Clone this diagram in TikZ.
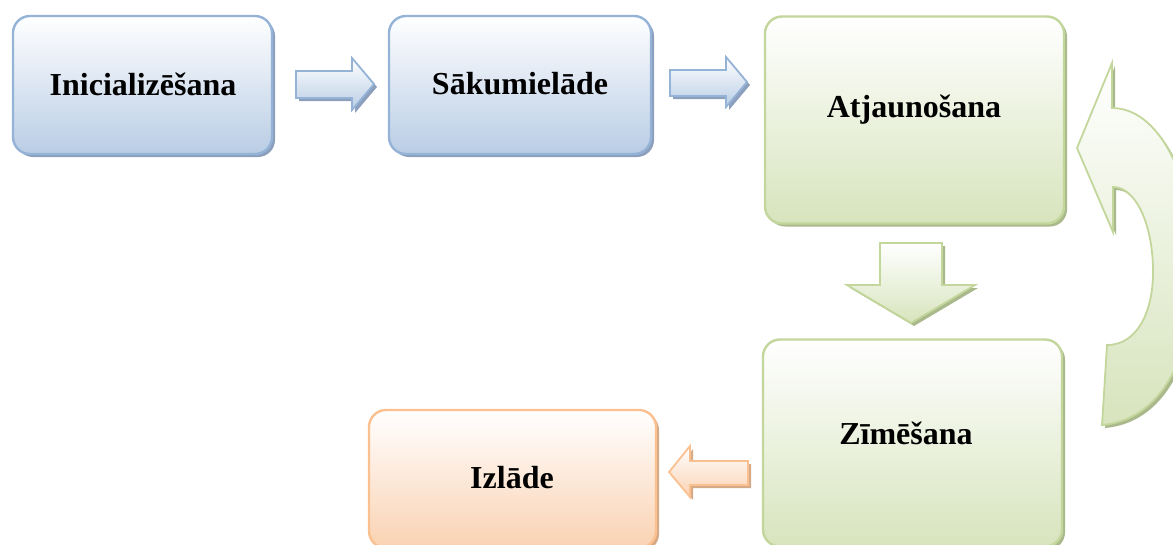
\documentclass[tikz,border=0pt]{standalone}
\usepackage{fontspec}
\setmainfont{Liberation Serif}
\usetikzlibrary{shadows}
\definecolor{bstroke}{RGB}{149,179,215}
\definecolor{bfill}{RGB}{185,205,229}
\definecolor{bshad}{RGB}{140,160,190}
\definecolor{gstroke}{RGB}{195,214,155}
\definecolor{gfill}{RGB}{215,228,189}
\definecolor{gshad}{RGB}{170,185,140}
\definecolor{ostroke}{RGB}{250,192,144}
\definecolor{ofill}{RGB}{250,210,178}
\definecolor{oshad}{RGB}{215,170,135}
\tikzset{
  boxbase/.style={line width=2.4pt, rounded corners=17pt, inner sep=0pt},
  bluebox/.style={boxbase, draw=bstroke, top color=white, bottom color=bfill,
    drop shadow={shadow xshift=3pt, shadow yshift=-3pt, fill=bshad, opacity=1}},
  greenbox/.style={boxbase, draw=gstroke, top color=white, bottom color=gfill,
    drop shadow={shadow xshift=3pt, shadow yshift=-3pt, fill=gshad, opacity=1}},
  orangebox/.style={boxbase, draw=ostroke, top color=white, bottom color=ofill,
    drop shadow={shadow xshift=3pt, shadow yshift=-3pt, fill=oshad, opacity=1}},
  lbl/.style={font=\fontsize{32}{36}\selectfont\bfseries, inner sep=0pt},
  barrow/.style={line width=1.8pt, draw=bstroke, top color=white, bottom color=bfill, line join=miter},
  garrow/.style={line width=1.8pt, draw=gstroke, top color=white, bottom color=gfill, line join=miter},
  oarrow/.style={line width=1.8pt, draw=ostroke, top color=white, bottom color=ofill, line join=miter},
}
\begin{document}
\begin{tikzpicture}[x=1pt,y=-1pt]
\useasboundingbox (0,0) rectangle (1173,544);
\clip (0,0) rectangle (1173,544);
% boxes
\node[bluebox, minimum width=259pt, minimum height=138pt] (init) at (142.5,85) {};
\node[bluebox, minimum width=262pt, minimum height=138pt] (sak) at (520,85) {};
\node[greenbox, minimum width=299pt, minimum height=207pt] (atj) at (914.5,120) {};
\node[greenbox, minimum width=299pt, minimum height=207pt] (zim) at (912.5,443) {};
\node[orangebox, minimum width=287pt, minimum height=138pt] (izl) at (512.5,479) {};
% labels
\node[lbl] (tinit) at (143,84) {Inicializēšana};
\node[lbl] (tsak) at (520,84) {Sākumielāde};
\node[lbl] (tatj) at (914,110) {Atjaunošana};
\node[lbl] (tzim) at (906,433) {Zīmēšana};
\node[lbl] (tizl) at (512,478) {Izlāde};
% block arrows
\fill[bshad] (299,74) -- (355,74) -- (355,61) -- (377,87) -- (355,113) -- (355,101) -- (299,101) -- cycle;
\path[barrow] (296,71) -- (352,71) -- (352,58) -- (374,84) -- (352,110) -- (352,98) -- (296,98) -- cycle;
\fill[bshad] (673,73) -- (729,73) -- (729,60) -- (750,85) -- (729,110) -- (729,99) -- (673,99) -- cycle;
\path[barrow] (670,70) -- (726,70) -- (726,57) -- (747,82) -- (726,107) -- (726,96) -- (670,96) -- cycle;
\fill[gshad] (883,246) -- (945,246) -- (945,288) -- (978,288) -- (914,326) -- (850,288) -- (883,288) -- cycle;
\path[garrow] (880,243) -- (942,243) -- (942,285) -- (975,285) -- (911,323) -- (847,285) -- (880,285) -- cycle;
\fill[oshad] (751,464) -- (693,464) -- (693,449) -- (672,475) -- (693,500) -- (693,488) -- (751,488) -- cycle;
\path[oarrow] (748,461) -- (690,461) -- (690,446) -- (669,472) -- (690,497) -- (690,485) -- (748,485) -- cycle;
% curved arrow
\begin{scope}[shift={(3,3)}]
\fill[gshad] (1112,63) -- (1112,108) .. controls (1165,108) and (1198,195) .. (1195,275)
  .. controls (1192,360) and (1160,420) .. (1102,425) -- (1107,345)
  .. controls (1138,345) and (1154,310) .. (1153,268)
  .. controls (1152,222) and (1135,187) .. (1113,187) -- (1113,232) -- (1077,148) -- cycle;
\end{scope}
\path[garrow] (1112,63) -- (1112,108) .. controls (1165,108) and (1198,195) .. (1195,275)
  .. controls (1192,360) and (1160,420) .. (1102,425) -- (1107,345)
  .. controls (1138,345) and (1154,310) .. (1153,268)
  .. controls (1152,222) and (1135,187) .. (1113,187) -- (1113,232) -- (1077,148) -- cycle;
\end{tikzpicture}
\end{document}
